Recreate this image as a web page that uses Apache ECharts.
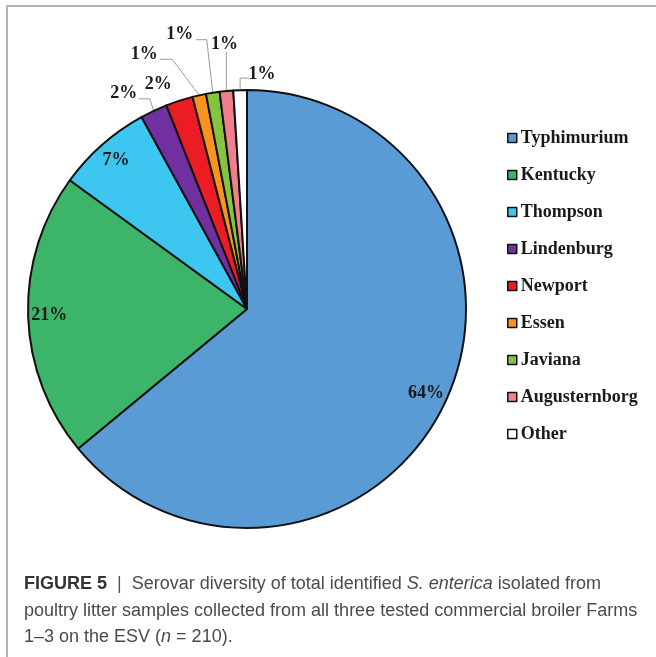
<!DOCTYPE html>
<html><head><meta charset="utf-8">
<script src="https://cdn.jsdelivr.net/npm/echarts@6/dist/echarts.min.js"></script>
<style>
html,body{margin:0;padding:0;background:#fff;}
#c{width:656px;height:657px;position:absolute;left:0;top:0;}
#frame{position:absolute;left:6px;top:5px;width:660px;height:660px;border-left:2px solid #b4b4b4;border-top:2px solid #b4b4b4;pointer-events:none;}
</style></head>
<body>
<div id="c"></div>
<div id="frame"></div>
<script>
const categories = ['Typhimurium','Kentucky','Thompson','Lindenburg','Newport','Essen','Javiana','Augusternborg','Other'];
const percents = [64, 21, 7, 2, 2, 1, 1, 1, 1];
const sliceColors = ['#5B9BD5','#3CB46A','#3CC6F0','#7030A0','#EC1C24','#F7941D','#86C440','#F07F8C','#FFFFFF'];

// label offsets relative to the slice's outer-edge anchor (text centre, line elbow, line end)
const smallLabelOffsets = {
  3: {t:[-30,-17], e:[-4,-12], n:[-15,-12]},
  4: {t:[-21,-16], e:null, n:null},
  5: {t:[-55,-41], e:[-27,-36], n:[-39,-36]},
  6: {t:[-33,-58], e:[-6,-53], n:[-17,-53]},
  7: {t:[-2,-47], e:[0,-39], n:[0,-39]},
  8: {t:[22,-16], e:[0,-12], n:[9,-12]}
};

const CX = 247, CY = 309, R = 219;
const serif = '"Liberation Serif","Times New Roman",serif';
const sans = '"Liberation Sans",Arial,sans-serif';
const chart = echarts.init(document.getElementById('c'));

const mainData = categories.map((n, i) => ({
  name: n, value: percents[i],
  itemStyle: {color: sliceColors[i]},
  label: {show: i >= 3},
  labelLine: {show: i >= 3 && i !== 4}
}));
const ringData = categories.map((n, i) => ({
  name: n, value: percents[i],
  label: {show: i < 3}
}));

chart.setOption({
  animation: false,
  backgroundColor: '#fff',
  title: {
    left: 19, top: 566,
    text: '{b|FIGURE 5}  {s||}  Serovar diversity of total identified {i|S. enterica} isolated from\npoultry litter samples collected from all three tested commercial broiler Farms\n1–3 on the ESV ({i|n} = 210).',
    textStyle: {
      fontFamily: sans, fontSize: 18, fontWeight: 'normal',
      color: '#4a4a4a', lineHeight: 26.5,
      rich: {
        b: {fontFamily: sans, fontSize: 18, fontWeight: 'bold', color: '#333', lineHeight: 26.5},
        s: {fontFamily: sans, fontSize: 18, color: '#555', lineHeight: 26.5},
        i: {fontFamily: sans, fontSize: 18, fontStyle: 'italic', color: '#4a4a4a', lineHeight: 26.5}
      }
    }
  },
  legend: {
    orient: 'vertical', left: 502, top: 124,
    data: categories,
    icon: 'rect', itemWidth: 9, itemHeight: 9, itemGap: 19,
    textStyle: {fontFamily: serif, fontSize: 18, fontWeight: 'bold', color: '#1a1a1a', padding: [0,0,0,-1]},
    itemStyle: {borderColor: '#111', borderWidth: 1.5},
    selectedMode: false
  },
  series: [
    {
      type: 'pie', center: [CX, CY], radius: [0, R],
      startAngle: 90, clockwise: true, silent: true,
      avoidLabelOverlap: false,
      itemStyle: {borderColor: '#111', borderWidth: 2},
      label: {position: 'outside', formatter: '{c}%', fontFamily: serif, fontSize: 18, fontWeight: 'bold', color: '#1a1a1a'},
      labelLine: {length: 10, length2: 10, lineStyle: {color: '#9a9a9a', width: 1}},
      labelLayout: function (p) {
        const o = smallLabelOffsets[p.dataIndex];
        if (!o) return {};
        let ax, ay;
        if (p.labelLinePoints && p.labelLinePoints[0]) {
          ax = p.labelLinePoints[0][0]; ay = p.labelLinePoints[0][1];
        } else {
          let cum = 0; for (let k = 0; k < p.dataIndex; k++) cum += percents[k];
          const total = percents.reduce((a, b) => a + b, 0);
          const th = (cum + percents[p.dataIndex] / 2) / total * 2 * Math.PI;
          ax = CX + R * Math.sin(th); ay = CY - R * Math.cos(th);
        }
        const res = {x: ax + o.t[0], y: ay + o.t[1], align: 'center', verticalAlign: 'middle'};
        if (o.e) res.labelLinePoints = [[ax, ay], [ax + o.e[0], ay + o.e[1]], [ax + o.n[0], ay + o.n[1]]];
        return res;
      },
      data: mainData
    },
    {
      type: 'pie', center: [CX, CY], radius: [R * 0.78, R],
      startAngle: 90, clockwise: true, silent: true,
      itemStyle: {color: 'rgba(0,0,0,0)', borderWidth: 0},
      label: {position: 'inside', formatter: '{c}%', fontFamily: serif, fontSize: 18, fontWeight: 'bold', color: '#1a1a1a'},
      labelLine: {show: false},
      emphasis: {disabled: true},
      data: ringData
    }
  ]
});
</script>
</body></html>
